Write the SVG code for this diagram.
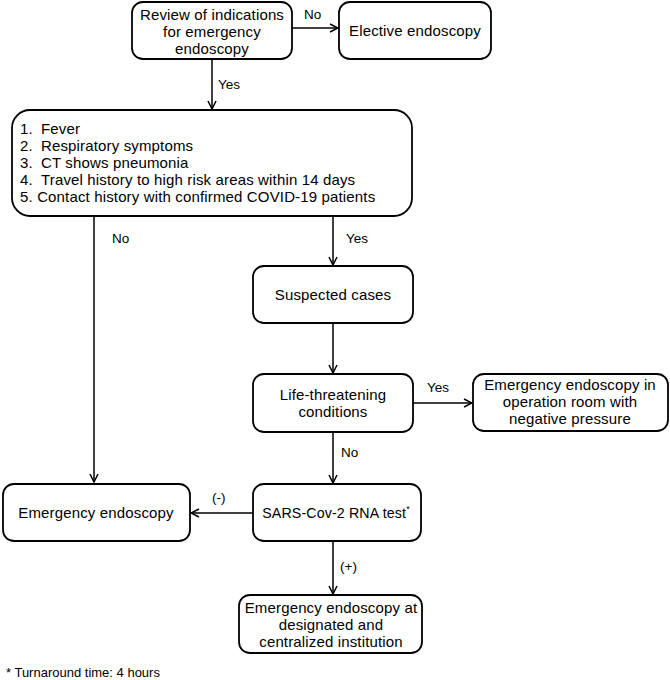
<svg xmlns="http://www.w3.org/2000/svg" width="670" height="680" viewBox="0 0 670 680">
<defs>
<marker id="arr" viewBox="0 0 10 10" refX="9" refY="5" markerWidth="10" markerHeight="10" markerUnits="userSpaceOnUse" orient="auto">
<path d="M1,1 L9,5 L1,9" fill="none" stroke="#000" stroke-width="1.5"/>
</marker>
<style>
.box{fill:#fff;stroke:#000;stroke-width:1.8}
.t{font-family:"Liberation Sans",Arial,sans-serif;font-size:15px;letter-spacing:0.15px;fill:#000}
.c{text-anchor:middle}
.l{font-family:"Liberation Sans",Arial,sans-serif;font-size:13.5px;fill:#000}
.ln{fill:none;stroke:#000;stroke-width:1.5;marker-end:url(#arr)}
</style>
</defs>
<g id="connectors">
<line class="ln" x1="292" y1="28" x2="338" y2="28"/>
<line class="ln" x1="212" y1="59" x2="212" y2="109"/>
<line class="ln" x1="94" y1="216" x2="94" y2="482"/>
<line class="ln" x1="333" y1="216" x2="333" y2="265"/>
<line class="ln" x1="333" y1="323" x2="333" y2="373"/>
<line class="ln" x1="413" y1="403" x2="472" y2="403"/>
<line class="ln" x1="333" y1="432" x2="333" y2="483"/>
<line class="ln" x1="253" y1="513" x2="191" y2="513"/>
<line class="ln" x1="333" y1="541" x2="333" y2="594"/>
<text class="l" x="304" y="19">No</text>
<text class="l" x="218" y="89">Yes</text>
<text class="l" x="112" y="243">No</text>
<text class="l" x="346" y="243">Yes</text>
<text class="l" x="427" y="392">Yes</text>
<text class="l" x="341" y="457">No</text>
<text class="l" x="212" y="502">(-)</text>
<text class="l" x="340" y="571">(+)</text>
</g>
<g id="review">
<rect class="box" x="132" y="2" width="160" height="57" rx="11"/>
<text class="t c"><tspan x="212" y="20">Review of indications</tspan><tspan x="212" y="37">for emergency</tspan><tspan x="212" y="54">endoscopy</tspan></text>
</g>
<g id="elective">
<rect class="box" x="339" y="2" width="152" height="57" rx="11"/>
<text class="t c" x="415" y="36">Elective endoscopy</text>
</g>
<g id="criteria">
<rect class="box" x="12" y="110" width="400" height="106" rx="18"/>
<text class="t"><tspan x="20" y="134">1.</tspan><tspan x="41" y="134">Fever</tspan><tspan x="20" y="151">2.</tspan><tspan x="41" y="151">Respiratory symptoms</tspan><tspan x="20" y="168">3.</tspan><tspan x="41" y="168">CT shows pneumonia</tspan><tspan x="20" y="185">4.</tspan><tspan x="41" y="185">Travel history to high risk areas within 14 days</tspan><tspan x="20" y="202">5. Contact history with confirmed COVID-19 patients</tspan></text>
</g>
<g id="suspected">
<rect class="box" x="253" y="266" width="160" height="57" rx="11"/>
<text class="t c" x="333" y="300">Suspected cases</text>
</g>
<g id="life">
<rect class="box" x="253" y="374" width="160" height="58" rx="11"/>
<text class="t c"><tspan x="333" y="400">Life-threatening</tspan><tspan x="333" y="417">conditions</tspan></text>
</g>
<g id="negative">
<rect class="box" x="473" y="374" width="195" height="57" rx="11"/>
<text class="t c"><tspan x="570" y="390">Emergency endoscopy in</tspan><tspan x="570" y="407">operation room with</tspan><tspan x="570" y="424">negative pressure</tspan></text>
</g>
<g id="emergency">
<rect class="box" x="3" y="484" width="187" height="57" rx="11"/>
<text class="t c" x="96" y="518">Emergency endoscopy</text>
</g>
<g id="rnatest">
<rect class="box" x="253" y="484" width="168" height="57" rx="11"/>
<text class="t c" x="336" y="518" style="font-size:14.2px">SARS-Cov-2 RNA test<tspan style="font-size:9px" dy="-6">*</tspan></text>
</g>
<g id="designated">
<rect class="box" x="239" y="595" width="183" height="58" rx="11"/>
<text class="t c"><tspan x="331" y="613">Emergency endoscopy at</tspan><tspan x="331" y="630">designated and</tspan><tspan x="331" y="647">centralized institution</tspan></text>
</g>
<text class="l" x="6" y="677" style="font-size:13px">* Turnaround time: 4 hours</text>
</svg>
